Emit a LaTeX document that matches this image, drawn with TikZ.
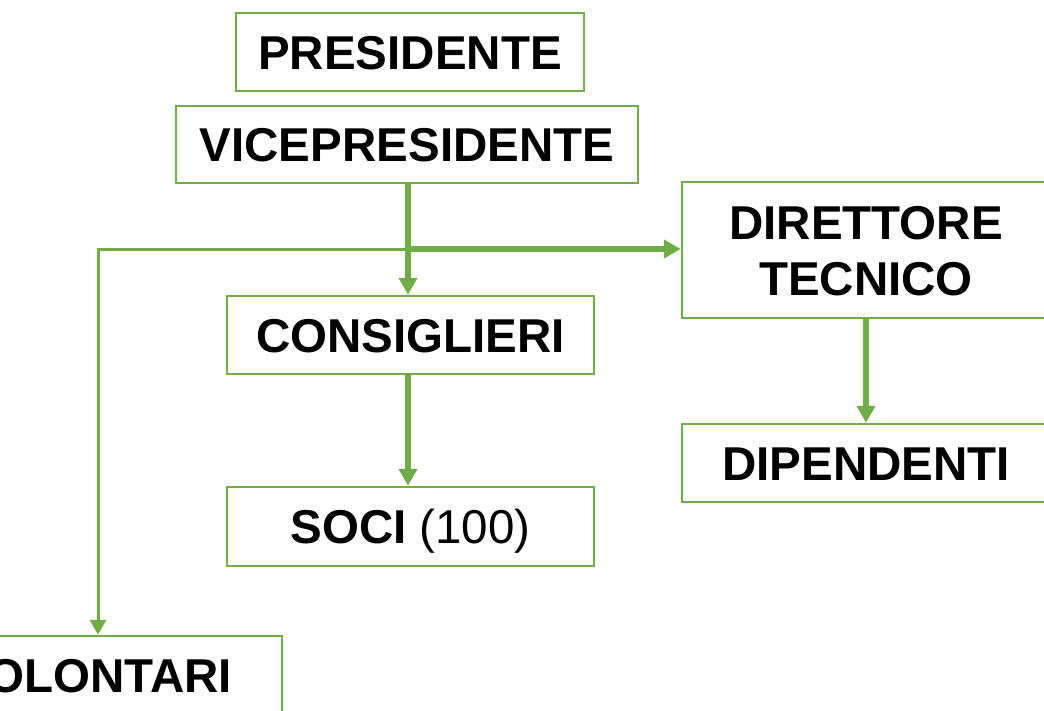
\documentclass[tikz,border=0pt]{standalone}
\usepackage{fontspec}
\setmainfont{Liberation Sans}
\usetikzlibrary{arrows.meta}
\definecolor{ogreen}{HTML}{70AD47}
\begin{document}
\begin{tikzpicture}[x=1pt,y=-1pt,
  box/.style={draw=ogreen, line width=2.5pt, fill=white, inner sep=0pt,
    font=\fontsize{47.5}{56}\selectfont\bfseries, text height=34pt, text depth=0pt},
  thickarrow/.style={draw=ogreen, line width=5.5pt, -{Triangle[length=17pt,width=18pt]}},
  thinarrow/.style={draw=ogreen, line width=3pt, -{Triangle[length=15pt,width=16pt]}}]
\useasboundingbox (0,0) rectangle (1044,710);
\clip (0,0) rectangle (1044,710);
\node[box, minimum width=348pt, minimum height=78pt] (pres) at (410,52) {PRESIDENTE};
\node[box, minimum width=462pt, minimum height=77pt] (vice) at (407,144.5) {VICEPRESIDENTE};
\node[box, minimum width=367pt, minimum height=78pt] (cons) at (410.5,335) {CONSIGLIERI};
\node[box, minimum width=367pt, minimum height=79pt] (soci) at (410.5,526.5) {SOCI {\mdseries (100)}};
\node[box, minimum width=368pt, minimum height=136pt, align=center, text height=90pt, text depth=0pt] (dir) at (866,250) {DIRETTORE\\TECNICO};
\node[box, minimum width=368pt, minimum height=78pt] (dip) at (866,463) {DIPENDENTI};
\node[box, minimum width=376pt, minimum height=78pt] (vol) at (94,675) {VOLONTARI};
\coordinate (j) at (408,249);
\coordinate (k) at (98,249);
\draw[thinarrow] (j) -- (k) -- (k |- vol.north);
\draw[thickarrow] (vice.south -| j) -- (j |- cons.north);
\draw[thickarrow] (j) -- (j -| dir.west);
\draw[thickarrow] (cons.south -| j) -- (j |- soci.north);
\draw[thickarrow] (dir.south) -- (dip.north);
\end{tikzpicture}
\end{document}
